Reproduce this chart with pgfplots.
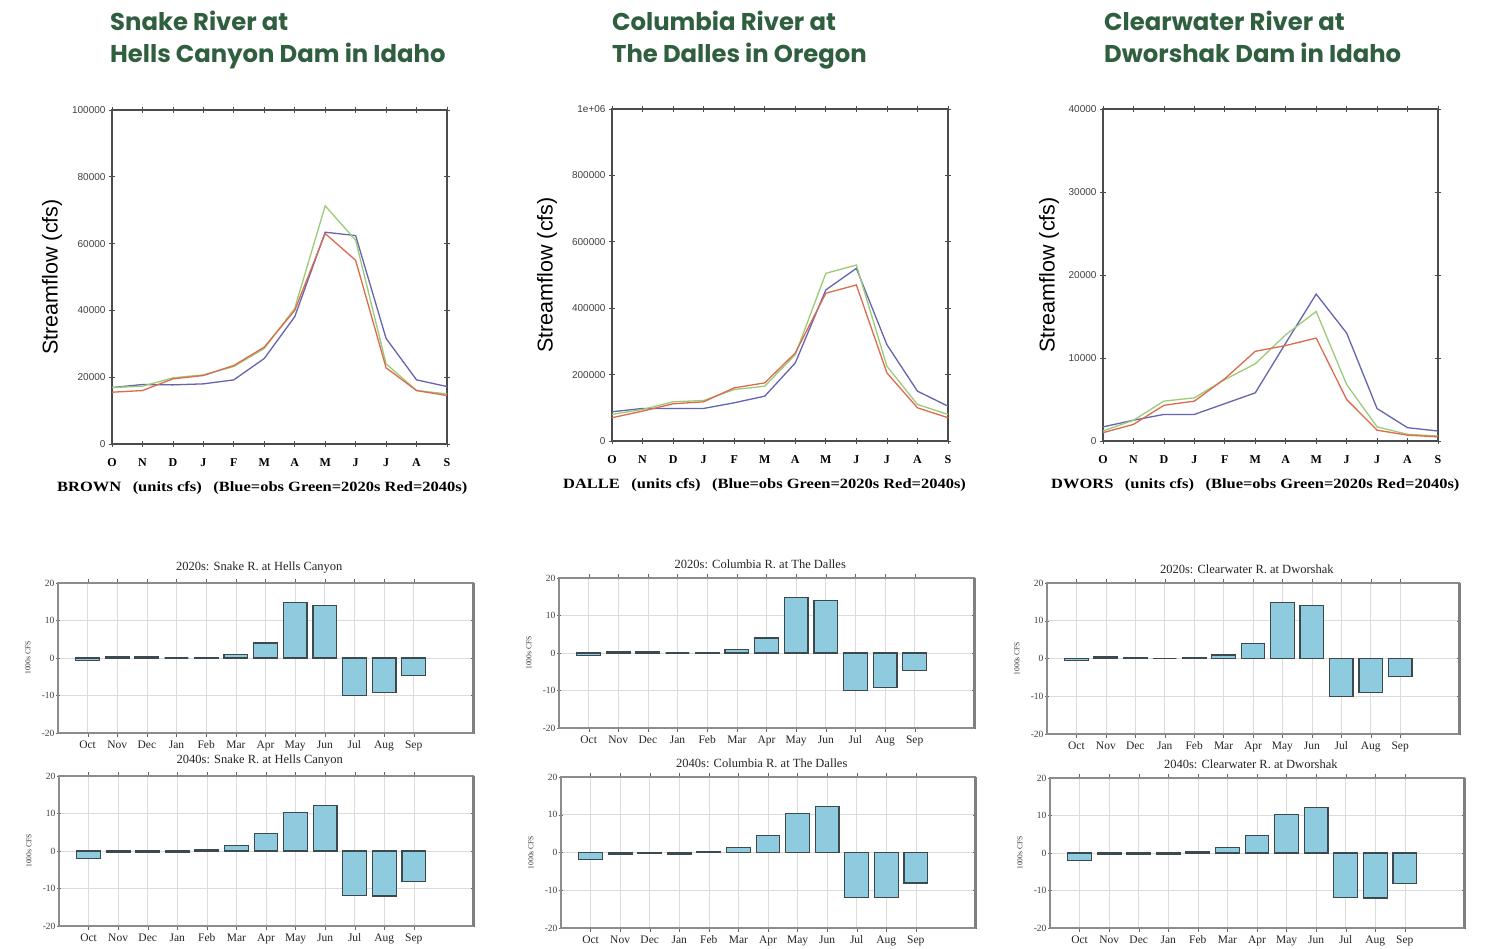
\documentclass[border=0pt]{standalone}
\usepackage{pgfplots}
\usepackage{pgfplotstable}
\pgfplotsset{compat=1.18}
\usepackage{fontspec}
\setmainfont{Liberation Serif}
\newfontfamily\titlefont{Poppins}
\newfontfamily\arialfont{Liberation Sans}
\definecolor{ttl}{HTML}{2F5F3F}
\definecolor{obs}{HTML}{6464B0}
\definecolor{gtw}{HTML}{9CCB78}
\definecolor{rfo}{HTML}{DC6A4E}
\definecolor{barfill}{HTML}{8FCBDF}
\definecolor{baredge}{HTML}{3C4A50}

\pgfplotstableread{
m obs g20 r40
1 16900 16900 15500
2 17800 17300 16000
3 17700 19800 19500
4 18000 20700 20500
5 19200 23200 23500
6 25600 28600 29000
7 38100 40600 40000
8 63400 71300 63000
9 62400 61000 55000
10 31600 24000 22800
11 19200 16000 16000
12 17200 15000 14500
}\snake

\pgfplotstableread{
m obs g20 r40
1 88000 80000 70000
2 98000 95000 90000
3 98000 118000 112000
4 98000 122000 118000
5 115000 155000 160000
6 135000 165000 175000
7 235000 260000 265000
8 455000 505000 445000
9 520000 530000 470000
10 290000 225000 205000
11 150000 110000 100000
12 105000 80000 70000
}\columbia

\pgfplotstableread{
m obs g20 r40
1 1700 1200 1000
2 2500 2500 2000
3 3200 4800 4300
4 3200 5200 4800
5 4500 7400 7500
6 5800 9300 10800
7 11800 12800 11500
8 17700 15600 12400
9 13000 6800 5000
10 3900 1700 1300
11 1600 800 700
12 1200 600 500
}\clearwater

\pgfplotstableread{
m d20 d40
1 -0.6 -1.9
2 0.4 -0.4
3 0.3 -0.3
4 0 -0.4
5 0.2 0.3
6 0.9 1.4
7 4.0 4.6
8 14.8 10.3
9 14.0 12.2
10 -10.0 -11.9
11 -9.1 -12.0
12 -4.7 -8.1
}\bars

\pgfplotsset{
 lineax/.style={scale only axis, anchor=north west, clip=false,
  xmin=1, xmax=12, ymin=0,
  xtick={1,...,12}, xticklabels={O,N,D,J,F,M,A,M,J,J,A,S},
  xticklabel style={font=\fontsize{12}{12}\selectfont\bfseries, yshift=-8pt},
  yticklabel style={font=\arialfont\fontsize{10}{10}\selectfont, text=black!75},
  /pgf/number format/assume math mode=true,
  scaled y ticks=false,
  yticklabel style={/pgf/number format/fixed, /pgf/number format/1000 sep={}},
  tick align=center, major tick length=6pt,
  tick style={black!70, line width=0.8pt},
  axis line style={black!70, line width=1.3pt},
  every axis plot/.append style={line width=1.3pt, mark=none},
 },
 barax/.style={scale only axis, anchor=north west, clip=false,
  xmin=0, xmax=14, ymin=-20, ymax=20,
  ytick={-20,-10,0,10,20}, xtick={1,...,12},
  xticklabels={Oct,Nov,Dec,Jan,Feb,Mar,Apr,May,Jun,Jul,Aug,Sep},
  xticklabel style={font=\fontsize{11.5}{11.5}\selectfont, text=black!85},
  yticklabel style={font=\fontsize{9.5}{9.5}\selectfont, text=black!75, xshift=2pt},
  /pgf/number format/assume math mode=true,
  grid=major, grid style={black!14, line width=0.6pt},
  tick align=center, major tick length=4pt, tick style={black!60},
  axis line style={black!45, line width=1.2pt},
  ybar, bar width=0.8,
  title style={at={(axis description cs:0.485,1)}, anchor=south, yshift=0pt, font=\fontsize{12.5}{12.5}\selectfont, text=black!85},
 },
}
\newcommand{\barplot}[1]{%
  \addplot[fill=barfill, draw=baredge, line width=1.2pt] table[x=m,y=#1]{\bars};
  \draw[black!50, line width=3pt] (rel axis cs:1,0) -- (rel axis cs:1,1);
  \node[rotate=90, font=\fontsize{7.5}{7.5}\selectfont, text=black!80] at ([xshift=-30pt]rel axis cs:0,0.5) {1000s CFS};
}
\newcommand{\captxt}[1]{\scalebox{1.22}[1.05]{\fontsize{13.5}{13.5}\selectfont\bfseries #1\hspace{0.7em}(units cfs)\hspace{0.7em}(Blue=obs Green=2020s Red=2040s)}}
\newcommand{\ttlfont}{\titlefont\bfseries\fontsize{24.3}{24.3}\selectfont}

\begin{document}
\begin{tikzpicture}[x=1pt,y=1pt]
\path[fill=white] (0,0) rectangle (1489,947);

% Titles
\node[anchor=base west, inner sep=0, text=ttl] at (110,916) {\ttlfont Snake River at};
\node[anchor=base west, inner sep=0, text=ttl] at (110,884) {\ttlfont Hells Canyon Dam in Idaho};
\node[anchor=base west, inner sep=0, text=ttl] at (612,916) {\ttlfont Columbia River at};
\node[anchor=base west, inner sep=0, text=ttl] at (612,884) {\ttlfont The Dalles in Oregon};
\node[anchor=base west, inner sep=0, text=ttl] at (1104,916) {\ttlfont Clearwater River at};
\node[anchor=base west, inner sep=0, text=ttl] at (1104,884) {\ttlfont Dworshak Dam in Idaho};

% Line panels
\begin{axis}[lineax, at={(112pt,837pt)}, width=335pt, height=334pt,
  ymax=100000, ytick={0,20000,40000,60000,80000,100000}]
\addplot[obs] table[x=m,y=obs]{\snake};
\addplot[gtw] table[x=m,y=g20]{\snake};
\addplot[rfo] table[x=m,y=r40]{\snake};
\node[rotate=90, font=\arialfont\fontsize{21.5}{21.5}\selectfont] at ([xshift=-60pt]rel axis cs:0,0.5) {Streamflow (cfs)};
\end{axis}

\begin{axis}[lineax, at={(612pt,838pt)}, width=336pt, height=332pt,
  ymax=1000000, ytick={0,200000,400000,600000,800000,1000000},
  yticklabels={0,200000,400000,600000,800000,1e+06}]
\addplot[obs] table[x=m,y=obs]{\columbia};
\addplot[gtw] table[x=m,y=g20]{\columbia};
\addplot[rfo] table[x=m,y=r40]{\columbia};
\node[rotate=90, font=\arialfont\fontsize{21.5}{21.5}\selectfont] at ([xshift=-65pt]rel axis cs:0,0.5) {Streamflow (cfs)};
\end{axis}

\begin{axis}[lineax, at={(1103pt,838pt)}, width=335pt, height=332pt,
  ymax=40000, ytick={0,10000,20000,30000,40000}]
\addplot[obs] table[x=m,y=obs]{\clearwater};
\addplot[gtw] table[x=m,y=g20]{\clearwater};
\addplot[rfo] table[x=m,y=r40]{\clearwater};
\node[rotate=90, font=\arialfont\fontsize{21.5}{21.5}\selectfont] at ([xshift=-54pt]rel axis cs:0,0.5) {Streamflow (cfs)};
\end{axis}

% Captions under line panels
\begin{scope}
\clip (0,440) rectangle (472,480);
\node[anchor=west, inner sep=0] at (57,459) {\captxt{BROWN}};
\end{scope}
\begin{scope}
\clip (500,440) rectangle (969,480);
\node[anchor=west, inner sep=0] at (563,462) {\captxt{DALLE}};
\end{scope}
\begin{scope}
\clip (1000,440) rectangle (1464,480);
\node[anchor=west, inner sep=0] at (1051,462) {\captxt{DWORS}};
\end{scope}

% Bar panels
\begin{axis}[barax, at={(58pt,364pt)}, width=415pt, height=150pt, title={2020s: Snake R. at Hells Canyon}]
\barplot{d20}
\end{axis}
\begin{axis}[barax, at={(59pt,171pt)}, width=414pt, height=150pt, title={2040s: Snake R. at Hells Canyon}]
\barplot{d40}
\end{axis}
\begin{axis}[barax, at={(559pt,369pt)}, width=415pt, height=150pt, title={2020s: Columbia R. at The Dalles}]
\barplot{d20}
\end{axis}
\begin{axis}[barax, at={(561pt,170pt)}, width=414pt, height=151pt, title={2040s: Columbia R. at The Dalles}]
\barplot{d40}
\end{axis}
\begin{axis}[barax, at={(1047pt,364pt)}, width=412pt, height=151pt, title={2020s: Clearwater R. at Dworshak}]
\barplot{d20}
\end{axis}
\begin{axis}[barax, at={(1050pt,169pt)}, width=414pt, height=150pt, title={2040s: Clearwater R. at Dworshak}]
\barplot{d40}
\end{axis}
\end{tikzpicture}
\end{document}
